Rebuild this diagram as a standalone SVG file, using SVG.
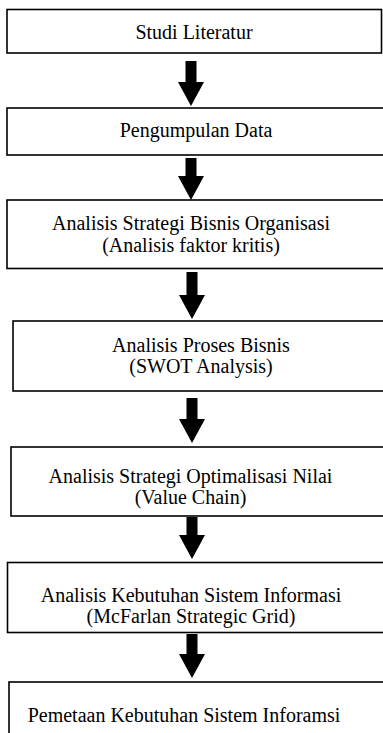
<svg xmlns="http://www.w3.org/2000/svg" width="383" height="733" viewBox="0 0 383 733">
<style>
.box{fill:#fff;stroke:#000;stroke-width:1.6}
.t{font-family:"Liberation Serif","Times New Roman",serif;font-size:20px;fill:#000;text-anchor:middle}
.arr{fill:#000}
</style>
<rect width="383" height="733" fill="#fff"/>
<g id="connectors">
<path class="arr" d="M185.5,61 H196.5 V82 H204 L191,106 L178,82 H185.5 Z"/>
<path class="arr" d="M185.5,158 H196.5 V176 H204 L191,200 L178,176 H185.5 Z"/>
<path class="arr" d="M186.5,272 H197.5 V295 H205 L192,319 L179,295 H186.5 Z"/>
<path class="arr" d="M186.5,398 H197.5 V419 H205 L192,443 L179,419 H186.5 Z"/>
<path class="arr" d="M186.5,517 H197.5 V535 H205 L192,559 L179,535 H186.5 Z"/>
<path class="arr" d="M186.5,634 H197.5 V654 H205 L192,678 L179,654 H186.5 Z"/>
</g>
<g id="n1"><rect class="box" x="7" y="9.5" width="374.5" height="43.5"/><text class="t" x="194" y="39">Studi Literatur</text></g>
<g id="n2"><rect class="box" x="7" y="108" width="390" height="47"/><text class="t" x="196" y="137">Pengumpulan Data</text></g>
<g id="n3"><rect class="box" x="7" y="200" width="390" height="68.5"/><text class="t" x="191" y="230">Analisis Strategi Bisnis Organisasi</text><text class="t" x="191" y="252">(Analisis faktor kritis)</text></g>
<g id="n4"><rect class="box" x="13" y="321" width="390" height="70"/><text class="t" x="201" y="352">Analisis Proses Bisnis</text><text class="t" x="201" y="373">(SWOT Analysis)</text></g>
<g id="n5"><rect class="box" x="11" y="447" width="390" height="69"/><text class="t" x="190.5" y="483">Analisis Strategi Optimalisasi Nilai</text><text class="t" x="190.5" y="504">(Value Chain)</text></g>
<g id="n6"><rect class="box" x="7.5" y="562.5" width="390" height="70"/><text class="t" x="191" y="602">Analisis Kebutuhan Sistem Informasi</text><text class="t" x="191" y="623">(McFarlan Strategic Grid)</text></g>
<g id="n7"><rect class="box" x="9" y="682" width="390" height="70"/><text class="t" x="184" y="722">Pemetaan Kebutuhan Sistem Inforamsi</text></g>
</svg>
